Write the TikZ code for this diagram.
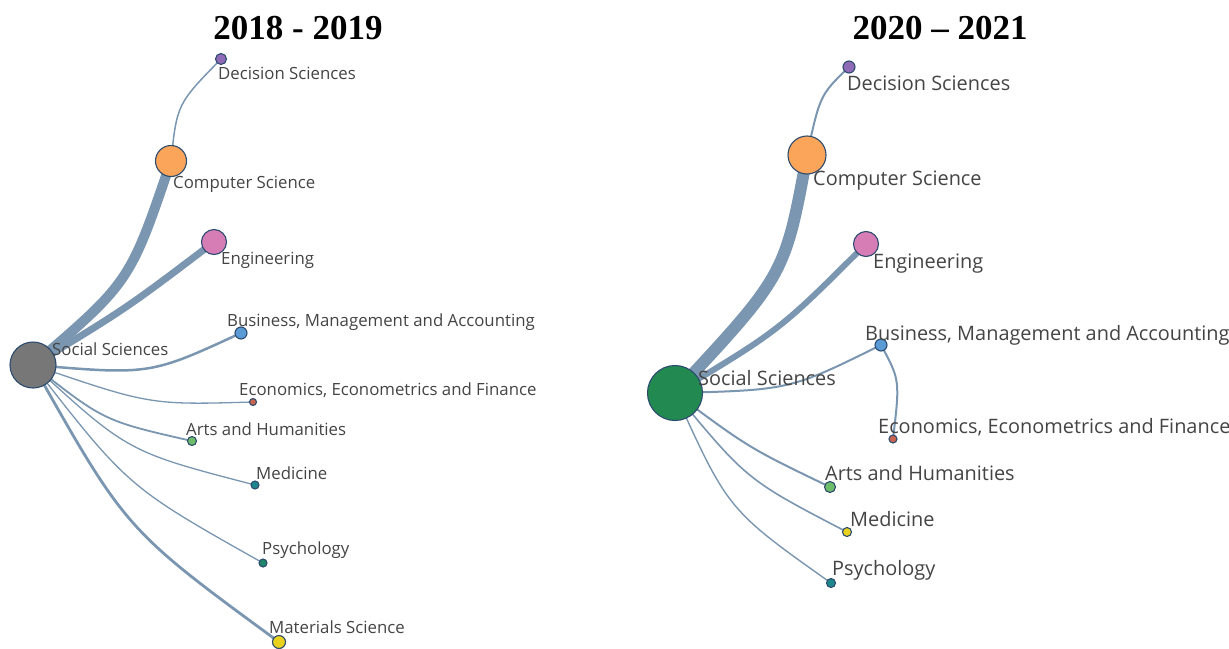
\documentclass[tikz,border=0pt]{standalone}
\usepackage{fontspec}
\setmainfont{Liberation Serif}
\newfontfamily\labelfont{Open Sans}
\usetikzlibrary{backgrounds}
\definecolor{edgec}{RGB}{122,150,176}
\definecolor{bordc}{RGB}{45,75,110}
\definecolor{txtc}{RGB}{68,68,68}
\definecolor{cgray}{RGB}{119,119,119}
\definecolor{cgreen}{RGB}{34,137,80}
\definecolor{corange}{RGB}{250,165,90}
\definecolor{cpink}{RGB}{214,125,182}
\definecolor{cpurple}{RGB}{143,106,182}
\definecolor{cblue}{RGB}{90,155,213}
\definecolor{cred}{RGB}{200,100,80}
\definecolor{clgreen}{RGB}{110,190,105}
\definecolor{cteal}{RGB}{30,135,140}
\definecolor{cdteal}{RGB}{30,135,105}
\definecolor{cyellow}{RGB}{232,210,30}
\tikzset{
  vert/.style={circle,draw=bordc,line width=1.1pt,inner sep=0pt,minimum size=#1},
  lab/.style={anchor=west,inner sep=0pt,text=txtc,font=\labelfont\fontsize{16.8}{18}\selectfont},
  labr/.style={anchor=west,inner sep=0pt,text=txtc,font=\labelfont\fontsize{19.9}{21}\selectfont},
  edg/.style={draw=edgec,line width=#1},
  ttl/.style={font=\bfseries\fontsize{35}{37}\selectfont,text=black}
}
\begin{document}
\begin{tikzpicture}[x=1pt,y=-1pt]
\useasboundingbox (0,0) rectangle (1229,648);
% titles
\node[ttl] (t1) at (298,28) {2018 - 2019};
\node[ttl] (t2) at (940,28) {2020 – 2021};
% ---------- left graph ----------
\node[vert=46pt,fill=cgray] (lss) at (33,365) {};
\node[vert=11pt,fill=cpurple] (lds) at (221,59) {};
\node[vert=31pt,fill=corange] (lcs) at (171,161) {};
\node[vert=25pt,fill=cpink] (len) at (214,242) {};
\node[vert=12pt,fill=cblue] (lbm) at (241,333) {};
\node[vert=7pt,fill=cred] (lec) at (253,402) {};
\node[vert=9pt,fill=clgreen] (lah) at (192,441) {};
\node[vert=8pt,fill=cteal] (lme) at (255,485) {};
\node[vert=8pt,fill=cdteal] (lps) at (263,563) {};
\node[vert=13pt,fill=cyellow] (lma) at (279,642) {};
\begin{scope}[on background layer]
\draw[edg=10pt] (lss.center) .. controls (130,282) .. (lcs.center);
\draw[edg=7pt] (lss.center) .. controls (127,308) .. (len.center);
\draw[edg=1.5pt] (lcs.center) .. controls (177,104) .. (lds.center);
\draw[edg=2.5pt] (lss.center) .. controls (150,375) .. (lbm.center);
\draw[edg=1.3pt] (lss.center) .. controls (150,405) .. (lec.center);
\draw[edg=1.8pt] (lss.center) .. controls (104,421) .. (lah.center);
\draw[edg=1.3pt] (lss.center) .. controls (128,452) .. (lme.center);
\draw[edg=1.3pt] (lss.center) .. controls (128,487) .. (lps.center);
\draw[edg=2.8pt] (lss.center) .. controls (126,530) .. (lma.center);
\end{scope}
\node[lab] (llss) at (52,349) {Social Sciences};
\node[lab] (llds) at (218,73) {Decision Sciences};
\node[lab] (llcs) at (173,184) {Computer Science};
\node[lab] (llen) at (221,260) {Engineering};
\node[lab] (llbm) at (227,322) {Business, Management and Accounting};
\node[lab] (llec) at (239,390) {Economics, Econometrics and Finance};
\node[lab] (llah) at (186,429) {Arts and Humanities};
\node[lab] (llme) at (256,473) {Medicine};
\node[lab] (llps) at (262,550) {Psychology};
\node[lab] (llma) at (269,627) {Materials Science};
% ---------- right graph ----------
\node[vert=55pt,fill=cgreen] (rss) at (675,393) {};
\node[vert=12pt,fill=cpurple] (rds) at (849,67) {};
\node[vert=38pt,fill=corange] (rcs) at (807,155) {};
\node[vert=25pt,fill=cpink] (ren) at (866,244) {};
\node[vert=12pt,fill=cblue] (rbm) at (881,345) {};
\node[vert=8pt,fill=cred] (rec) at (893,439) {};
\node[vert=11pt,fill=clgreen] (rah) at (830,487) {};
\node[vert=9pt,fill=cyellow] (rme) at (847,532) {};
\node[vert=9pt,fill=cteal] (rps) at (831,583) {};
\begin{scope}[on background layer]
\draw[edg=12pt] (rss.center) .. controls (785,275) .. (rcs.center);
\draw[edg=6pt] (rss.center) .. controls (780,330) .. (ren.center);
\draw[edg=2pt] (rcs.center) .. controls (820,95) .. (rds.center);
\draw[edg=2pt] (rss.center) .. controls (790,390) .. (rbm.center);
\draw[edg=2pt] (rbm.center) .. controls (900,380) .. (rec.center);
\draw[edg=2pt] (rss.center) .. controls (749,448) .. (rah.center);
\draw[edg=1.6pt] (rss.center) .. controls (747,480) .. (rme.center);
\draw[edg=1.4pt] (rss.center) .. controls (728,510) .. (rps.center);
\end{scope}
\node[labr] (rlss) at (698,378) {Social Sciences};
\node[labr] (rlds) at (847,83) {Decision Sciences};
\node[labr] (rlcs) at (813,181) {Computer Science};
\node[labr] (rlen) at (873,264) {Engineering};
\node[labr] (rlbm) at (865,335) {Business, Management and Accounting};
\node[labr] (rlec) at (878,427) {Economics, Econometrics and Finance};
\node[labr] (rlah) at (825,473) {Arts and Humanities};
\node[labr] (rlme) at (850,519) {Medicine};
\node[labr] (rlps) at (832,570) {Psychology};
\end{tikzpicture}
\end{document}
